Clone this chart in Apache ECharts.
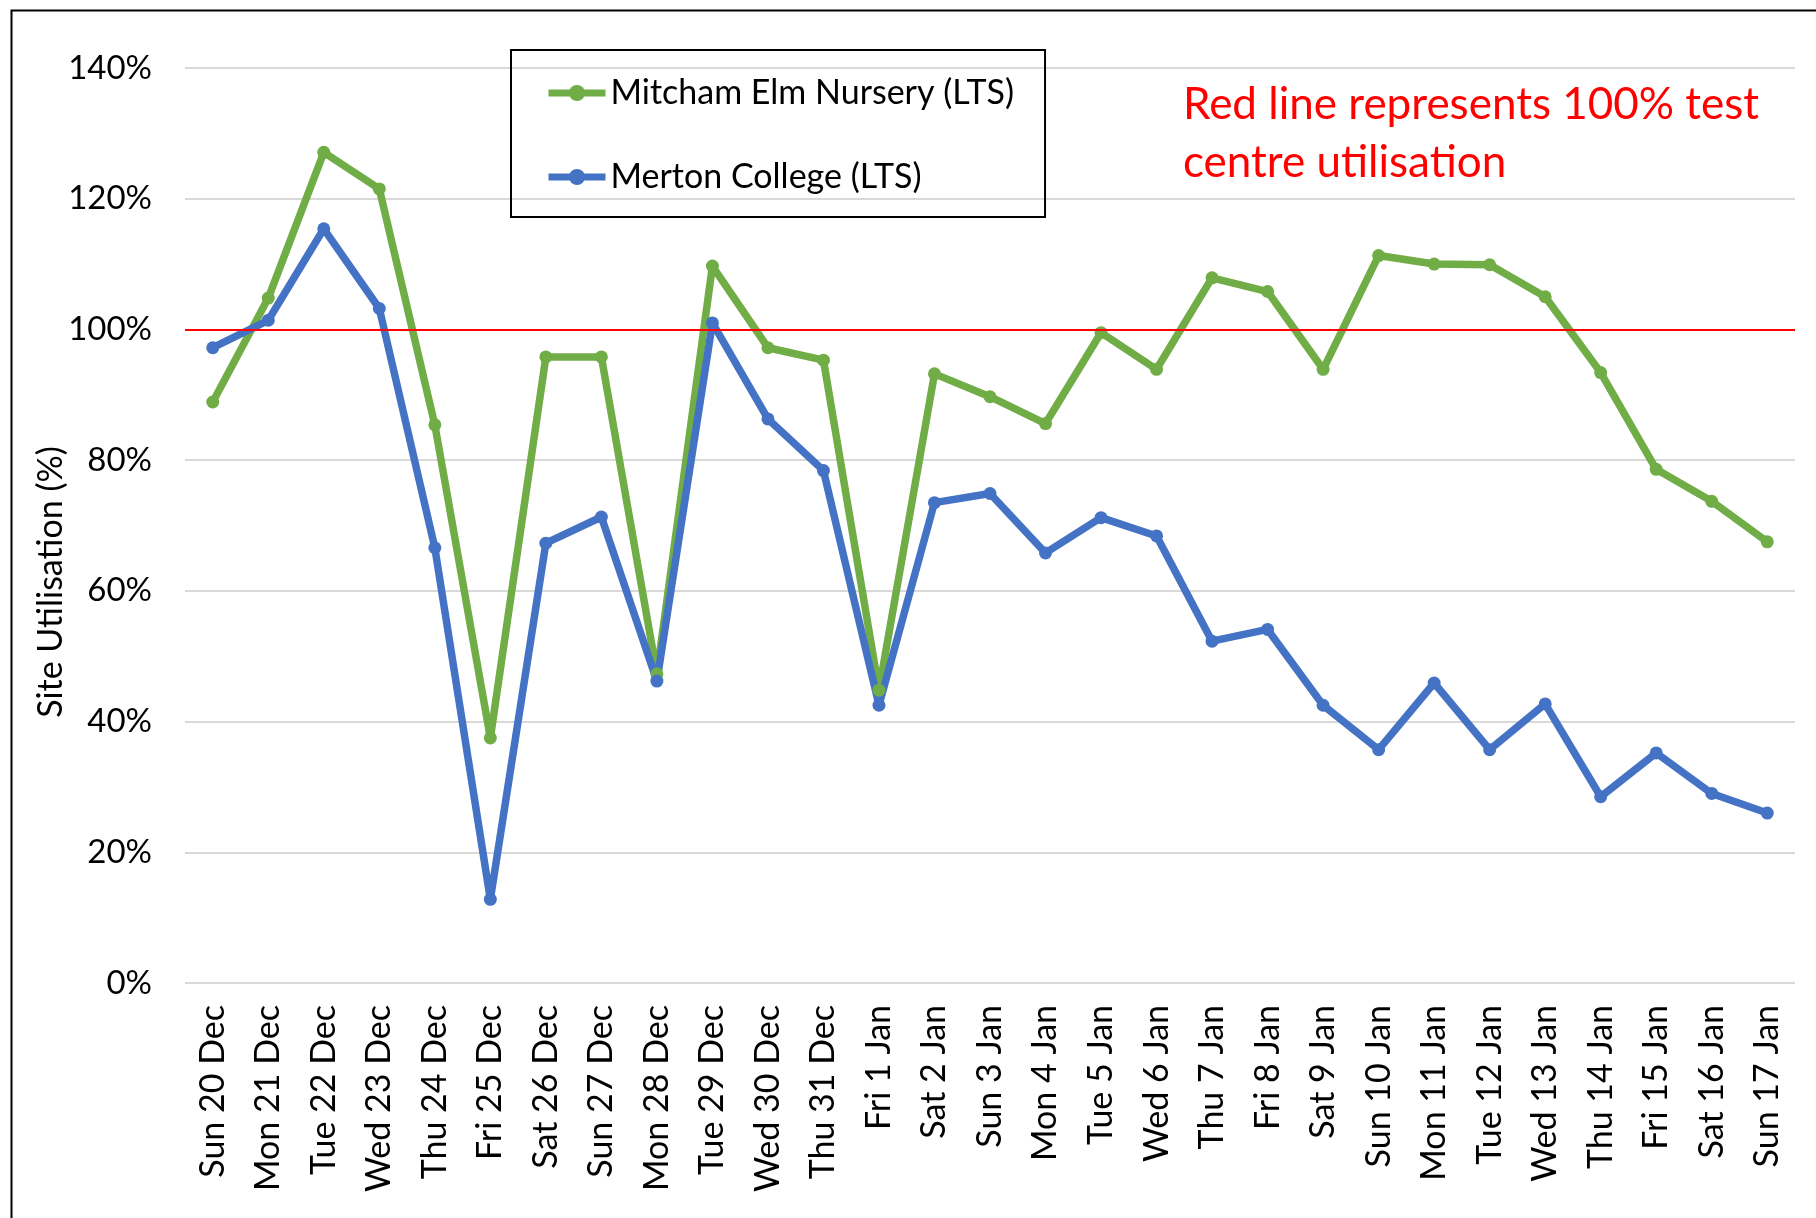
<!DOCTYPE html>
<html>
<head>
<meta charset="utf-8">
<script src="https://cdn.jsdelivr.net/npm/echarts@6/dist/echarts.min.js"></script>
<style>
  html, body { margin: 0; padding: 0; background: #fff; }
  #chart { width: 1816px; height: 1218px; }
</style>
</head>
<body>
<div id="chart"></div>
<script>
var days = ['Sun 20 Dec', 'Mon 21 Dec', 'Tue 22 Dec', 'Wed 23 Dec', 'Thu 24 Dec', 'Fri 25 Dec',
    'Sat 26 Dec', 'Sun 27 Dec', 'Mon 28 Dec', 'Tue 29 Dec', 'Wed 30 Dec', 'Thu 31 Dec',
    'Fri 1 Jan', 'Sat 2 Jan', 'Sun 3 Jan', 'Mon 4 Jan', 'Tue 5 Jan', 'Wed 6 Jan', 'Thu 7 Jan',
    'Fri 8 Jan', 'Sat 9 Jan', 'Sun 10 Jan', 'Mon 11 Jan', 'Tue 12 Jan', 'Wed 13 Jan',
    'Thu 14 Jan', 'Fri 15 Jan', 'Sat 16 Jan', 'Sun 17 Jan'];

var mitcham = [88.9, 104.8, 127.1, 121.5, 85.4, 37.5, 95.8, 95.8, 47.3, 109.7, 97.2, 95.3,
    44.8, 93.2, 89.7, 85.6, 99.5, 93.9, 107.9, 105.8, 93.9, 111.3, 110.0, 109.9, 105.0,
    93.4, 78.6, 73.7, 67.5];

var merton = [97.2, 101.4, 115.4, 103.2, 66.6, 12.8, 67.3, 71.3, 46.2, 101.0, 86.3, 78.4,
    42.5, 73.5, 74.9, 65.8, 71.2, 68.4, 52.3, 54.1, 42.5, 35.7, 45.9, 35.7, 42.7,
    28.5, 35.2, 29.0, 26.0];

var targetLevel = 100;
var font = 'Lato';

var myChart = echarts.init(document.getElementById('chart'));

var option = {
    backgroundColor: '#ffffff',
    animation: false,
    grid: { left: 185, right: 21, top: 68, bottom: 235 },
    legend: {
        orient: 'vertical',
        left: 511,
        top: 50,
        padding: [26, 31, 23, 34],
        itemWidth: 57,
        itemHeight: 20,
        itemGap: 50,
        borderColor: '#000',
        borderWidth: 2,
        lineStyle: { width: 7 },
        textStyle: { fontFamily: font, fontSize: 34, color: '#000' },
        data: ['Mitcham Elm Nursery (LTS)', 'Merton College (LTS)']
    },
    xAxis: {
        type: 'category',
        data: days,
        axisLine: { show: false },
        axisTick: { show: false },
        axisLabel: {
            rotate: 90,
            interval: 0,
            margin: 22,
            fontFamily: font,
            fontSize: 34,
            color: '#000'
        }
    },
    yAxis: {
        type: 'value',
        min: 0,
        max: 140,
        interval: 20,
        axisLine: { show: false },
        axisTick: { show: false },
        axisLabel: {
            formatter: '{value}%',
            margin: 33,
            fontFamily: font,
            fontSize: 33,
            color: '#000'
        },
        splitLine: { lineStyle: { color: '#d9d9d9', width: 2 } }
    },
    series: [
        {
            name: 'Mitcham Elm Nursery (LTS)',
            type: 'line',
            data: mitcham,
            color: '#70ad47',
            symbol: 'circle',
            symbolSize: 13,
            lineStyle: { width: 7.5 }
        },
        {
            name: 'Merton College (LTS)',
            type: 'line',
            data: merton,
            color: '#4472c4',
            symbol: 'circle',
            symbolSize: 13,
            lineStyle: { width: 7.5 }
        },
        {
            name: 'target',
            type: 'line',
            data: [],
            z: 10,
            markLine: {
                silent: true,
                symbol: 'none',
                label: { show: false },
                lineStyle: { color: '#ff0000', width: 2, type: 'solid' },
                data: [{ yAxis: targetLevel }]
            }
        }
    ],
    graphic: [
        {
            type: 'rect',
            left: 9,
            top: 8,
            shape: { width: 1900, height: 1300 },
            style: { fill: 'none', stroke: '#000', lineWidth: 2 },
            z: 100
        },
        {
            // y axis title sits a little below the middle of the plot
            type: 'text',
            x: 51,
            y: 582,
            rotation: Math.PI / 2,
            style: {
                text: 'Site Utilisation (%)',
                fill: '#000',
                fontFamily: font,
                fontSize: 34,
                align: 'center',
                verticalAlign: 'middle'
            }
        },
        {
            type: 'text',
            left: 1183,
            top: 76,
            style: {
                text: 'Red line represents 100% test\ncentre utilisation',
                fill: '#ff0000',
                fontFamily: font,
                fontSize: 44,
                lineHeight: 58
            }
        }
    ]
};

myChart.setOption(option);
</script>
</body>
</html>
